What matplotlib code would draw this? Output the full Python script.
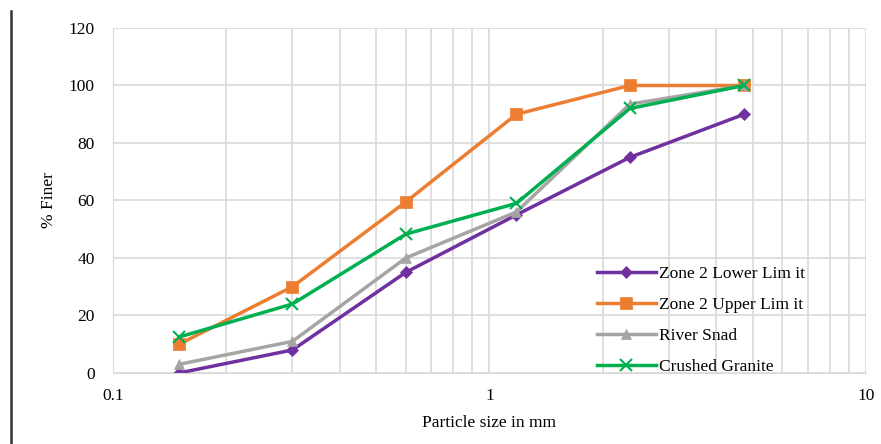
import numpy as np
import matplotlib.pyplot as plt
from matplotlib.ticker import FixedLocator, NullFormatter, FixedFormatter

plt.rcParams['font.family'] = ['Liberation Serif', 'DejaVu Serif']

# sieve sizes (mm) and percent passing
sizes = [0.15, 0.3, 0.6, 1.18, 2.36, 4.75]
lower_limit = [0, 8, 35, 55, 75, 90]
upper_limit = [10, 30, 59.5, 90, 100, 100]
river_sand = [3, 11, 40, 56, 93.5, 100]
crushed_granite = [12.5, 24, 48.3, 59, 92, 100]

labels = ['Zone 2 Lower Lim it', 'Zone 2 Upper Lim it', 'River Snad', 'Crushed Granite']
colors = ['#7030A0', '#ED7D31', '#A5A5A5', '#00B050']
markers = ['D', 's', '^', 'x']
msizes = [6, 8, 7, 9]

fig = plt.figure(figsize=(8.81, 4.44), dpi=100)
ax = fig.add_axes([0.128, 0.16, 0.855, 0.777])

series = [lower_limit, upper_limit, river_sand, crushed_granite]
for vals, lab, c, m, ms in zip(series, labels, colors, markers, msizes):
    ax.plot(sizes, vals, color=c, marker=m, markersize=ms, linewidth=2.5,
            label=lab, markeredgewidth=1.5 if m == 'x' else 0.5)

ax.set_xscale('log')
ax.set_xlim(0.1, 10)
ax.set_ylim(0, 120)
ax.set_yticks(np.arange(0, 121, 20))
ax.xaxis.set_major_locator(FixedLocator([0.1, 1, 10]))
ax.xaxis.set_major_formatter(FixedFormatter(['0.1', '1', '10']))
ax.xaxis.set_minor_locator(FixedLocator([k * 10.0 ** e for e in (-1, 0) for k in range(2, 10)]))
ax.xaxis.set_minor_formatter(NullFormatter())

ax.grid(True, which='both', color='#D9D9D9', linewidth=1.2)
ax.set_axisbelow(True)
ax.tick_params(which='both', length=0, labelsize=12.5)
ax.tick_params(axis='y', pad=13)
ax.tick_params(axis='x', pad=11)
for s in ['top', 'right']:
    ax.spines[s].set_visible(False)
for s in ['left', 'bottom']:
    ax.spines[s].set_color('#D9D9D9')

ax.set_xlabel('Particle size in mm', fontsize=12.5, labelpad=8)
ax.set_ylabel('% Finer', fontsize=12.5, labelpad=8)

ax.legend(loc='lower right', bbox_to_anchor=(0.94, -0.05), frameon=False,
          fontsize=12.5, handlelength=3.4, labelspacing=0.85, handletextpad=0.2)

# vertical rule at the left edge
fig.add_artist(plt.Line2D([0.012, 0.012], [0.0, 0.975], color='#333333', linewidth=1.8))

fig.savefig('out.png', dpi=100)
